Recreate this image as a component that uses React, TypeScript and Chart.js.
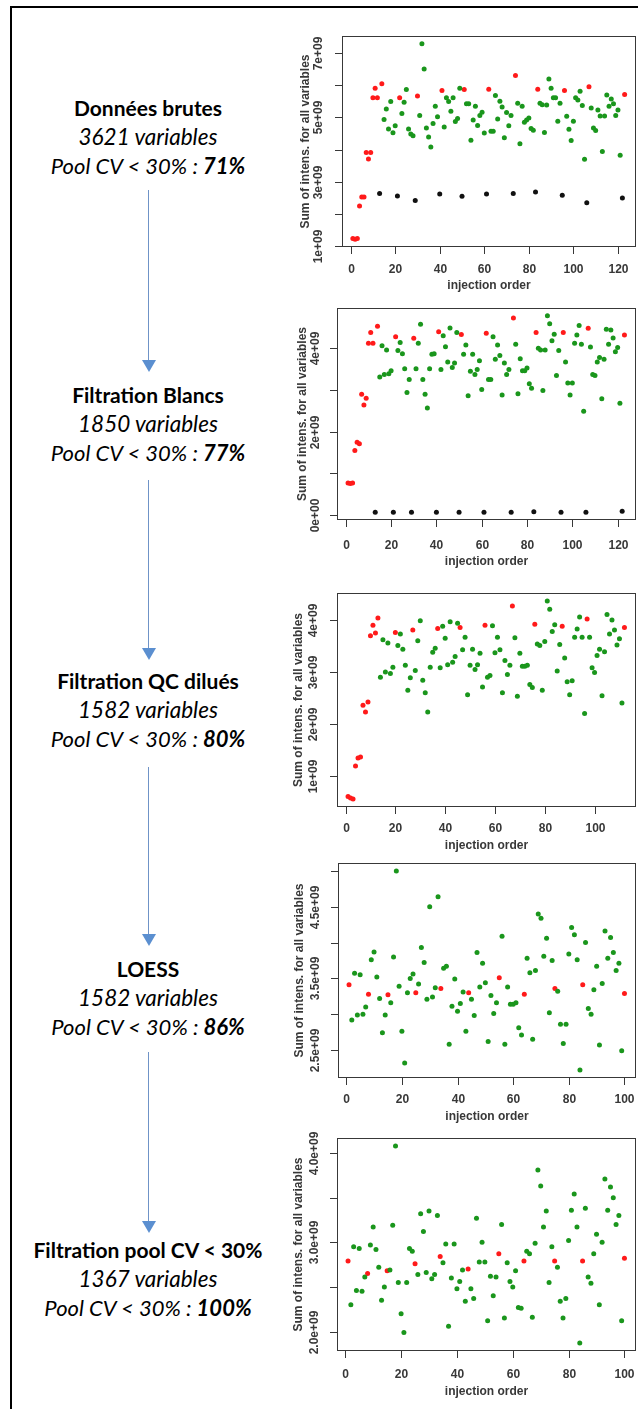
import React, { useEffect, useRef } from "react";
import { Chart, registerables } from "chart.js";

Chart.register(...registerables);

// ---- injection classes ----
const BLANKS_RAW = [13, 21, 29, 40, 50, 61, 73, 83, 95, 106, 122];
const QC_RAW = [1, 2, 3, 4, 5, 6, 7, 8, 9, 10, 11, 12, 14, 22, 30, 41, 51, 62, 74, 84, 96, 107, 123];
const QC_NO_BLANK = [1, 2, 3, 4, 5, 6, 7, 8, 9, 10, 11, 12, 13, 20, 27, 37, 46, 56, 67, 76, 87, 97, 112];
const QC_CORRECTED = [1, 8, 15, 25, 34, 44, 55, 64, 75, 85, 100];

// ---- sum of intensities (x 1e9), in injection order ----
const RAW_VALUES = [
  1.24, 1.22, 1.24, 2.25, 2.53, 2.53, 3.91, 3.71, 3.91, 5.61,
  5.9, 5.61, 2.64, 6.04, 4.93, 5.26, 4.64, 5.49, 4.52, 4.74,
  2.56, 5.61, 5.12, 5.47, 5.86, 4.64, 4.48, 4.43, 2.42, 5.66,
  5.06, 7.28, 6.5, 4.67, 4.39, 4.08, 4.81, 5.34, 5.02, 2.62,
  5.83, 4.7, 5.61, 5.49, 5.19, 5.61, 4.87, 4.96, 5.9, 2.55,
  5.86, 5.42, 5.42, 4.29, 4.92, 5.34, 4.75, 5.06, 5.16, 4.51,
  2.62, 5.87, 4.57, 4.57, 5.68, 4.95, 5.5, 5.32, 4.37, 5.15,
  4.74, 5.06, 2.64, 6.3, 5.44, 4.18, 5.34, 4.85, 4.92, 4.98,
  4.65, 4.6, 2.68, 5.87, 5.44, 5.39, 4.53, 5.38, 6.19, 5.9,
  5.61, 5.61, 4.88, 5.44, 2.58, 5.83, 5.03, 4.63, 4.28, 4.88,
  5.61, 5.54, 5.81, 5.37, 3.7, 2.35, 5.95, 5.29, 4.67, 4.59,
  5.23, 5.04, 3.94, 5.04, 5.69, 5.34, 5.57, 5.42, 5.06, 5.23,
  3.82, 2.5, 5.71,
];
const BLANK_FILTER_VALUES = [
  0.77, 0.76, 0.77, 1.55, 1.75, 1.71, 2.9, 2.64, 2.8, 4.12,
  4.38, 4.12, 0.07, 4.53, 3.31, 4.06, 3.37, 3.96, 3.39, 3.46,
  0.07, 4.28, 3.95, 4.14, 3.87, 3.51, 2.94, 3.25, 0.07, 4.24,
  3.51, 4.12, 4.58, 3.25, 2.9, 2.57, 3.51, 3.86, 3.87, 0.07,
  4.4, 3.49, 4.3, 4.04, 3.67, 4.49, 3.54, 3.65, 4.38, 0.07,
  4.33, 3.86, 4.08, 2.86, 3.45, 3.86, 3.37, 3.49, 3.7, 3.01,
  0.07, 4.36, 3.25, 3.25, 4.28, 3.74, 4.08, 3.83, 2.88, 3.65,
  3.37, 3.49, 0.07, 4.73, 4.1, 2.91, 3.75, 3.46, 3.46, 3.53,
  3.15, 3.04, 0.08, 4.38, 4.0, 3.96, 2.99, 3.96, 4.78, 4.59,
  4.18, 4.34, 3.35, 3.95, 0.07, 4.38, 3.67, 3.17, 2.88, 3.17,
  4.12, 4.32, 4.55, 4.1, 2.49, 0.07, 4.48, 4.03, 3.37, 3.35,
  3.67, 3.78, 2.79, 3.74, 4.46, 4.1, 4.44, 4.25, 3.92, 4.02,
  2.68, 0.09, 4.32,
];
const DILUTED_QC_VALUES = [
  0.6, 0.57, 0.55, 1.19, 1.34, 1.36, 2.36, 2.23, 2.42, 3.7,
  3.9, 3.75, 4.04, 2.9, 3.62, 3.0, 3.56, 2.97, 3.09, 3.76,
  3.51, 3.73, 3.44, 3.13, 2.65, 2.89, 3.81, 3.03, 3.6, 3.99,
  2.84, 2.6, 2.23, 3.09, 3.38, 3.46, 3.84, 3.08, 3.88, 3.65,
  3.14, 3.97, 3.19, 3.3, 3.94, 3.86, 3.43, 3.67, 2.56, 3.13,
  3.44, 3.05, 3.14, 3.36, 2.71, 3.9, 2.9, 2.93, 3.89, 3.37,
  3.67, 3.43, 2.6, 3.22, 2.95, 3.13, 4.27, 3.66, 2.53, 3.36,
  3.11, 3.11, 3.13, 2.76, 2.7, 3.92, 3.54, 3.51, 2.65, 3.59,
  4.37, 4.21, 3.78, 3.91, 3.02, 3.53, 3.88, 3.27, 2.81, 2.56,
  2.83, 3.67, 3.83, 4.06, 3.67, 2.2, 4.02, 3.67, 3.08, 2.99,
  3.32, 3.44, 2.54, 3.39, 4.11, 3.73, 4.0, 3.81, 3.52, 3.64,
  2.4, 3.86,
];
const LOESS_VALUES = [
  3.41, 2.92, 3.57, 2.99, 3.55, 3.0, 3.1, 3.28, 3.76, 3.87,
  3.52, 3.22, 2.74, 2.99, 3.27, 3.16, 3.8, 5.0, 3.39, 2.76,
  2.32, 3.3, 3.5, 3.56, 3.3, 3.42, 3.93, 3.72, 3.21, 4.5,
  3.24, 3.37, 4.64, 3.36, 3.64, 3.67, 2.58, 3.11, 3.49, 3.04,
  3.15, 3.31, 2.76, 3.3, 3.21, 2.98, 3.86, 3.38, 3.71, 3.44,
  2.62, 3.26, 3.01, 3.16, 3.51, 4.09, 2.58, 3.38, 3.14, 3.14,
  3.16, 2.81, 2.71, 3.28, 3.78, 3.58, 2.65, 3.61, 4.4, 4.34,
  3.81, 4.06, 3.02, 3.75, 3.36, 3.32, 2.86, 2.59, 2.86, 3.84,
  4.21, 4.11, 3.76, 2.22, 3.41, 4.0, 3.08, 3.0, 3.34, 3.67,
  2.57, 3.43, 4.16, 3.78, 4.07, 3.86, 3.61, 3.71, 2.49, 3.29,
];
const CV_FILTER_VALUES = [
  2.79, 2.3, 2.95, 2.46, 2.93, 2.45, 2.61, 2.65, 2.97, 3.17,
  2.92, 2.72, 2.35, 2.5, 2.68, 2.69, 3.19, 4.08, 2.55, 2.2,
  1.99, 2.55, 2.93, 2.9, 2.76, 2.64, 3.32, 3.12, 2.66, 3.35,
  2.59, 2.64, 3.3, 2.84, 2.77, 2.98, 2.06, 2.6, 2.98, 2.48,
  2.56, 2.69, 2.34, 2.7, 2.48, 2.37, 3.27, 2.78, 3.0, 2.78,
  2.12, 2.62, 2.4, 2.61, 2.87, 3.2, 2.15, 2.77, 2.56, 2.5,
  2.68, 2.27, 2.26, 2.79, 2.9, 2.87, 2.16, 2.99, 3.81, 3.63,
  3.17, 3.35, 2.55, 2.95, 2.79, 2.72, 2.34, 2.15, 2.37, 3.02,
  3.36, 3.54, 3.17, 1.87, 2.79, 3.38, 2.61, 2.54, 2.87, 3.09,
  2.3, 3.0, 3.71, 3.36, 3.62, 3.5, 3.2, 3.3, 2.12, 2.82,
];

// ---- axis ticks ----
const X_TICKS_120 = [0, 20, 40, 60, 80, 100, 120];
const X_TICKS_100 = [0, 20, 40, 60, 80, 100];
const Y_TICKS_RAW = [1, 2, 3, 4, 5, 6, 7];
const Y_LABELS_RAW = ["1e+09", "", "3e+09", "", "5e+09", "", "7e+09"];
const Y_TICKS_BLANK = [0, 1, 2, 3, 4];
const Y_LABELS_BLANK = ["0e+00", "", "2e+09", "", "4e+09"];
const Y_TICKS_DILUTED = [1, 2, 3, 4];
const Y_LABELS_DILUTED = ["1e+09", "2e+09", "3e+09", "4e+09"];
const Y_TICKS_LOESS = [2.5, 3, 3.5, 4, 4.5, 5];
const Y_LABELS_LOESS = ["2.5e+09", "", "3.5e+09", "", "4.5e+09", ""];
const Y_TICKS_CV = [2, 2.5, 3, 3.5, 4];
const Y_LABELS_CV = ["2.0e+09", "", "3.0e+09", "", "4.0e+09"];

const UNIT = 1e9;
const X_TITLE = "injection order";
const Y_TITLE = "Sum of intens. for all variables";

// ---- step descriptions ----
const STEP_TITLES = ["Données brutes", "Filtration Blancs", "Filtration QC dilués", "LOESS", "Filtration pool CV < 30%"];
const STEP_VARIABLES = [3621, 1850, 1582, 1582, 1367];
const STEP_POOL_CV = ["71%", "77%", "80%", "86%", "100%"];

const GREEN = "#1a961c";
const RED = "#ff1a1a";
const BLACK = "#111111";
const AXIS = "#383838";

type PanelDef = {
  values: number[];
  qc: number[];
  blanks: number[];
  xTicks: number[];
  yTicks: number[];
  yLabels: string[];
  top: number;
  height: number;
  pad: { left: number; right: number; top: number; bottom: number };
  yLabelOff: number;
  yTitleOff: number;
  xLabelOff: number;
  xTitleOff: number;
};

const PANELS: PanelDef[] = [
  {
    values: RAW_VALUES, qc: QC_RAW, blanks: BLANKS_RAW, xTicks: X_TICKS_120,
    yTicks: Y_TICKS_RAW, yLabels: Y_LABELS_RAW,
    top: 20, height: 280, pad: { left: 62, right: 1, top: 16, bottom: 53 },
    yLabelOff: 23, yTitleOff: 36, xLabelOff: 23, xTitleOff: 39,
  },
  {
    values: BLANK_FILTER_VALUES, qc: QC_RAW, blanks: BLANKS_RAW, xTicks: X_TICKS_120,
    yTicks: Y_TICKS_BLANK, yLabels: Y_LABELS_BLANK,
    top: 300, height: 275, pad: { left: 57, right: 1, top: 8, bottom: 55 },
    yLabelOff: 21, yTitleOff: 34, xLabelOff: 26, xTitleOff: 42,
  },
  {
    values: DILUTED_QC_VALUES, qc: QC_NO_BLANK, blanks: [], xTicks: X_TICKS_100,
    yTicks: Y_TICKS_DILUTED, yLabels: Y_LABELS_DILUTED,
    top: 580, height: 275, pad: { left: 57, right: 1, top: 13, bottom: 48 },
    yLabelOff: 23, yTitleOff: 38, xLabelOff: 22, xTitleOff: 39,
  },
  {
    values: LOESS_VALUES, qc: QC_CORRECTED, blanks: [], xTicks: X_TICKS_100,
    yTicks: Y_TICKS_LOESS, yLabels: Y_LABELS_LOESS,
    top: 850, height: 280, pad: { left: 58, right: 1, top: 13, bottom: 52 },
    yLabelOff: 22, yTitleOff: 38, xLabelOff: 22, xTitleOff: 39,
  },
  {
    values: CV_FILTER_VALUES, qc: QC_CORRECTED, blanks: [], xTicks: X_TICKS_100,
    yTicks: Y_TICKS_CV, yLabels: Y_LABELS_CV,
    top: 1125, height: 284, pad: { left: 57, right: 1, top: 13, bottom: 58 },
    yLabelOff: 22, yTitleOff: 38, xLabelOff: 24, xTitleOff: 41,
  },
];

// R-style axis range: data range widened by 4% on each side
function extendedRange(lo: number, hi: number) {
  const d = (hi - lo) * 0.04;
  return { min: lo - d, max: hi + d };
}

const AXIS_FONT = "bold 12px 'Liberation Sans', Arial, sans-serif";

function makeAxesPlugin(def: PanelDef) {
  return {
    id: "baseAxes",
    beforeDatasetsDraw(chart: any) {
      const { ctx, chartArea } = chart;
      const xs = chart.scales.x;
      const ys = chart.scales.y;
      const l = Math.round(chartArea.left);
      const r = Math.round(chartArea.right);
      const t = Math.round(chartArea.top);
      const b = Math.round(chartArea.bottom);
      ctx.save();
      ctx.strokeStyle = AXIS;
      ctx.lineWidth = 1;
      ctx.strokeRect(l + 0.5, t + 0.5, r - l - 1, b - t - 1);

      ctx.fillStyle = AXIS;
      ctx.font = AXIS_FONT;
      // x axis
      ctx.textAlign = "center";
      ctx.textBaseline = "middle";
      def.xTicks.forEach((v) => {
        const px = Math.round(xs.getPixelForValue(v)) + 0.5;
        ctx.beginPath();
        ctx.moveTo(px, b - 0.5);
        ctx.lineTo(px, b + 7);
        ctx.stroke();
        ctx.fillText(String(v), px, b + def.xLabelOff);
      });
      ctx.fillText(X_TITLE, (l + r) / 2, b + def.xTitleOff);

      // y axis
      def.yTicks.forEach((v, i) => {
        const py = Math.round(ys.getPixelForValue(v * UNIT)) + 0.5;
        ctx.beginPath();
        ctx.moveTo(l + 0.5, py);
        ctx.lineTo(l - 7, py);
        ctx.stroke();
        const label = def.yLabels[i];
        if (label) {
          ctx.save();
          ctx.translate(l - def.yLabelOff, py);
          ctx.rotate(-Math.PI / 2);
          ctx.fillText(label, 0, 0);
          ctx.restore();
        }
      });
      ctx.save();
      ctx.translate(l - def.yTitleOff, (t + b) / 2);
      ctx.rotate(-Math.PI / 2);
      ctx.fillText(Y_TITLE, 0, 0);
      ctx.restore();
      ctx.restore();
    },
  };
}

function ScatterPanel({ def }: { def: PanelDef }) {
  const ref = useRef<HTMLCanvasElement | null>(null);
  useEffect(() => {
    if (!ref.current) return;
    const green: { x: number; y: number }[] = [];
    const red: { x: number; y: number }[] = [];
    const black: { x: number; y: number }[] = [];
    def.values.forEach((v, i) => {
      const order = i + 1;
      const pt = { x: order, y: v * UNIT };
      if (def.blanks.includes(order)) black.push(pt);
      else if (def.qc.includes(order)) red.push(pt);
      else green.push(pt);
    });
    const xr = extendedRange(1, def.values.length);
    const yr = extendedRange(Math.min(...def.values), Math.max(...def.values));
    const common = { pointRadius: 2.5, pointBorderWidth: 0, pointHoverRadius: 2.5 };
    const chart = new Chart(ref.current, {
      type: "scatter",
      data: {
        datasets: [
          { data: green, backgroundColor: GREEN, borderColor: GREEN, ...common },
          { data: red, backgroundColor: RED, borderColor: RED, ...common },
          { data: black, backgroundColor: BLACK, borderColor: BLACK, ...common },
        ],
      },
      options: {
        animation: false,
        responsive: false,
        devicePixelRatio: 1,
        events: [],
        layout: { padding: def.pad },
        plugins: { legend: { display: false }, tooltip: { enabled: false } },
        scales: {
          x: { type: "linear", display: false, min: xr.min, max: xr.max },
          y: { type: "linear", display: false, min: yr.min * UNIT, max: yr.max * UNIT },
        },
      },
      plugins: [makeAxesPlugin(def)],
    } as any);
    return () => chart.destroy();
  }, [def]);
  return (
    <canvas
      ref={ref}
      width={358}
      height={def.height}
      style={{ position: "absolute", left: 280, top: def.top, width: 358, height: def.height }}
    />
  );
}

const TEXT_TOPS = [108, 395, 681, 969, 1250];
const ARROWS = [
  { from: 190, to: 372 },
  { from: 480, to: 660 },
  { from: 767, to: 946 },
  { from: 1052, to: 1233 },
];
const TEXT_FONT = "Lato, 'Open Sans', sans-serif";
const LINE_GAP = 29;

function Arrow({ from, to }: { from: number; to: number }) {
  const head = 12;
  return (
    <>
      <div style={{ position: "absolute", left: 148, top: from, width: 1, height: to - from - head, background: "#6f93c7" }} />
      <div
        style={{
          position: "absolute",
          left: 141.5,
          top: to - head,
          width: 0,
          height: 0,
          borderLeft: "7px solid transparent",
          borderRight: "7px solid transparent",
          borderTop: `${head}px solid #5b8fd0`,
        }}
      />
    </>
  );
}

function StepText({ idx }: { idx: number }) {
  const cy = TEXT_TOPS[idx];
  const line = (y: number, content: React.ReactNode, style: React.CSSProperties) => (
    <div
      style={{
        position: "absolute",
        left: 8,
        width: 280,
        top: y - 15,
        height: 30,
        lineHeight: "30px",
        textAlign: "center",
        fontFamily: TEXT_FONT,
        fontSize: 21,
        color: "#000",
        whiteSpace: "nowrap",
        ...style,
      }}
    >
      {content}
    </div>
  );
  return (
    <>
      {line(cy, STEP_TITLES[idx], { fontWeight: 700 })}
      {line(cy + LINE_GAP, `${STEP_VARIABLES[idx]} variables`, { fontStyle: "italic", fontSize: 22.5 })}
      {line(
        cy + 2 * LINE_GAP,
        <>
          Pool CV &lt; 30% : <b>{STEP_POOL_CV[idx]}</b>
        </>,
        { fontStyle: "italic", fontSize: 22 }
      )}
    </>
  );
}

export default function App() {
  return (
    <div
      style={{
        position: "absolute",
        left: 0,
        top: 0,
        width: 638,
        height: 1409,
        overflow: "hidden",
        background: "#fff",
      }}
    >
      <div
        style={{
          position: "absolute",
          left: 10,
          top: 6,
          width: 640,
          height: 1420,
          borderTop: "2px solid #000",
          borderLeft: "2px solid #000",
        }}
      />
      {STEP_TITLES.map((_, i) => (
        <StepText key={i} idx={i} />
      ))}
      {ARROWS.map((a, i) => (
        <Arrow key={i} from={a.from} to={a.to} />
      ))}
      {PANELS.map((p, i) => (
        <ScatterPanel key={i} def={p} />
      ))}
    </div>
  );
}
